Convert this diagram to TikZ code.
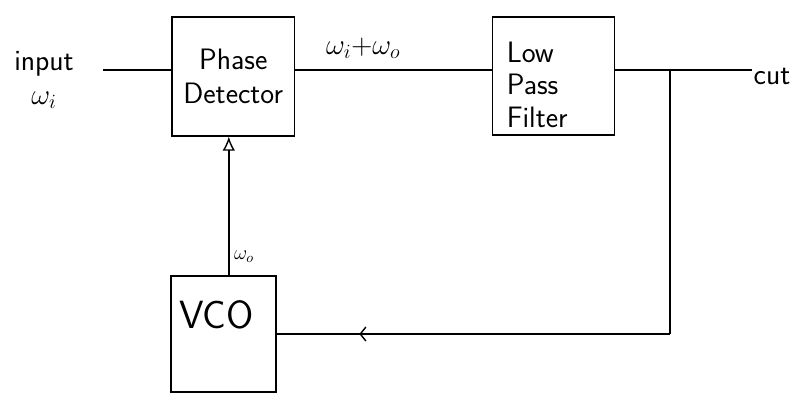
\documentclass[tikz,border=0pt]{standalone}
\usepackage{amsmath, amssymb}
\usepackage{xcolor}
\usepackage{tikz}
\usetikzlibrary{calc, positioning, arrows.meta, decorations.markings}

\begin{document}
\begin{tikzpicture}[>=latex, line width=1pt,
    font=\sffamily\fontsize{21}{24}\selectfont,
    blok/.style={draw, rectangle, inner sep=0pt}]
    \useasboundingbox (0,0) rectangle (20.125,-9.8);
    % 1. Các khối
    \node[blok, minimum width=3.05cm, minimum height=2.975cm, align=center] (pd) at (5.83,-1.91) {Phase\\Detector};
    \node[blok, minimum width=3.05cm, minimum height=2.95cm,
        label={[xshift=-0.4cm, yshift=-0.22cm, align=left, font=\sffamily\fontsize{21}{23}\selectfont]center:Low\\Pass\\Filter}] (lpf) at (13.83,-1.9) {};
    \node[blok, minimum width=2.625cm, minimum height=2.9cm] (vco) at (5.59,-8.35) {};
    \node[below=0.5cm of vco.north, xshift=-5pt, font=\sffamily\fontsize{28}{30}\selectfont] (vcotxt) {VCO};
    
    % 2. Các điểm nối
    \coordinate (in) at (2.575,-1.75);
    \coordinate (out) at (18.8,-1.75);
    \coordinate (jn) at (16.75,-1.75);
    \coordinate (up) at (5.72,0);
    
    % 3. Đường nối
    \draw (in) -- (in -| pd.west);
    \draw (pd.east |- in) -- (lpf.west |- in);
    \draw (lpf.east |- out) -- (out);
    \draw[-{Latex[open, length=10pt, width=9pt]}] (up |- vco.north) -- (up |- pd.south);
    \draw (jn) -- (jn |- vco.east);
    \draw[postaction={decorate}, decoration={markings,
        mark=at position 0.79 with {\arrow{Straight Barb[length=4pt, width=10pt]}}}]
        (jn |- vco.east) -- (vco.east);
    
    % 4. Nhãn
    \node[align=center] (inlbl) at (1.1,-2.0) {input\\$\omega_i$};
    \node (outlbl) at (19.3,-1.9) {cut};
    \node (sumlbl) at (9.08,-1.2) {$\omega_i{+}\omega_o$};
    \node[font=\fontsize{14}{16}\selectfont] (wolbl) at (6.1,-6.42) {$\omega_o$};
\end{tikzpicture}
\end{document}
